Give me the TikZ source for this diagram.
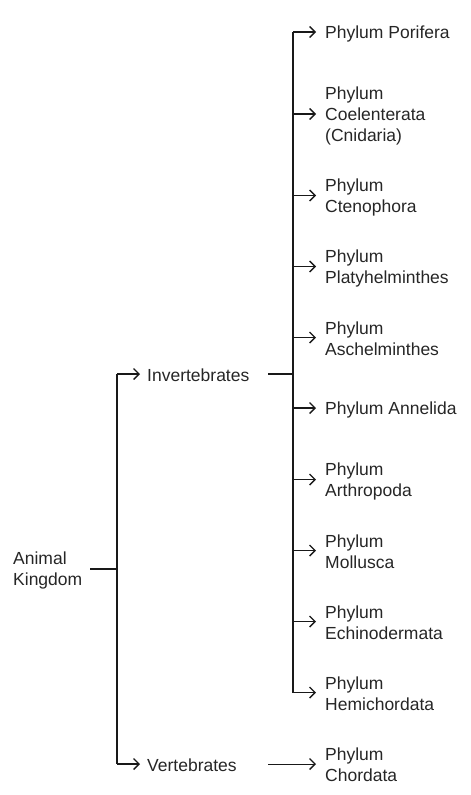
\documentclass[tikz,border=0pt]{standalone}
\usepackage{fontspec}
\setmainfont{Liberation Sans}
\usetikzlibrary{arrows.meta}
\definecolor{txt}{HTML}{262626}
\tikzset{
  lbl/.style={anchor=west,inner sep=0pt,align=left,text=txt,yshift=-1.5pt,font=\fontsize{17.5}{21}\selectfont},
  ln/.style={line width=1.5pt,draw=black!90},
  arr/.style={ln,-{Straight Barb[length=5.5pt,width=11pt,line width=1.4pt]}}
}
\begin{document}
\begin{tikzpicture}[x=1pt,y=-1pt]
\useasboundingbox (0,0) rectangle (471,795);
% nodes
\node[lbl] (ak) at (13,569) {Animal\\Kingdom};
\node[lbl] (inv) at (147,374) {Invertebrates};
\node[lbl] (vert) at (147,764) {Vertebrates};
\node[lbl] (p1) at (325,32) {Phylum Porifera};
\node[lbl] (p2) at (325,114) {Phylum\\Coelenterata\\(Cnidaria)};
\node[lbl] (p3) at (325,195.5) {Phylum\\Ctenophora};
\node[lbl] (p4) at (325,266.5) {Phylum\\Platyhelminthes};
\node[lbl] (p5) at (325,337.5) {Phylum\\Aschelminthes};
\node[lbl] (p6) at (325,408) {Phylum Annelida};
\node[lbl] (p7) at (325,479.5) {Phylum\\Arthropoda};
\node[lbl] (p8) at (325,550.5) {Phylum\\Mollusca};
\node[lbl] (p9) at (325,621.5) {Phylum\\Echinodermata};
\node[lbl] (p10) at (325,692.5) {Phylum\\Hemichordata};
\node[lbl] (p11) at (325,763.5) {Phylum\\Chordata};
% trunk coordinates
\coordinate (bx) at (117,0);
\coordinate (tx) at (293,0);
\coordinate (akout) at (90,569);
\coordinate (invout) at (268,374);
\coordinate (vertout) at (268,764);
\coordinate (invy) at (0,374);
\coordinate (verty) at (0,764);
% left bracket
\draw[ln] (akout) -- (akout -| bx);
\draw[ln] (bx |- invy) -- (bx |- verty);
\draw[arr,shorten >=7pt] (bx |- invy) -- (inv.west |- invy);
\draw[arr,shorten >=7pt] (bx |- verty) -- (vert.west |- verty);
% invertebrate trunk
\draw[ln] (invout) -- (invout -| tx);
\draw[ln] (tx |- 0,32) -- (tx |- 0,692.5);
\foreach \p/\y in {p1/32,p2/114,p3/195.5,p4/266.5,p5/337.5,p6/408,p7/479.5,p8/550.5,p9/621.5,p10/692.5}{
  \draw[arr,shorten >=9pt] (tx |- 0,\y) -- (\p.west |- 0,\y);
}
% vertebrates to chordata
\draw[arr,line width=1pt,shorten >=9pt] (vertout) -- (p11.west |- vertout);
\end{tikzpicture}
\end{document}
